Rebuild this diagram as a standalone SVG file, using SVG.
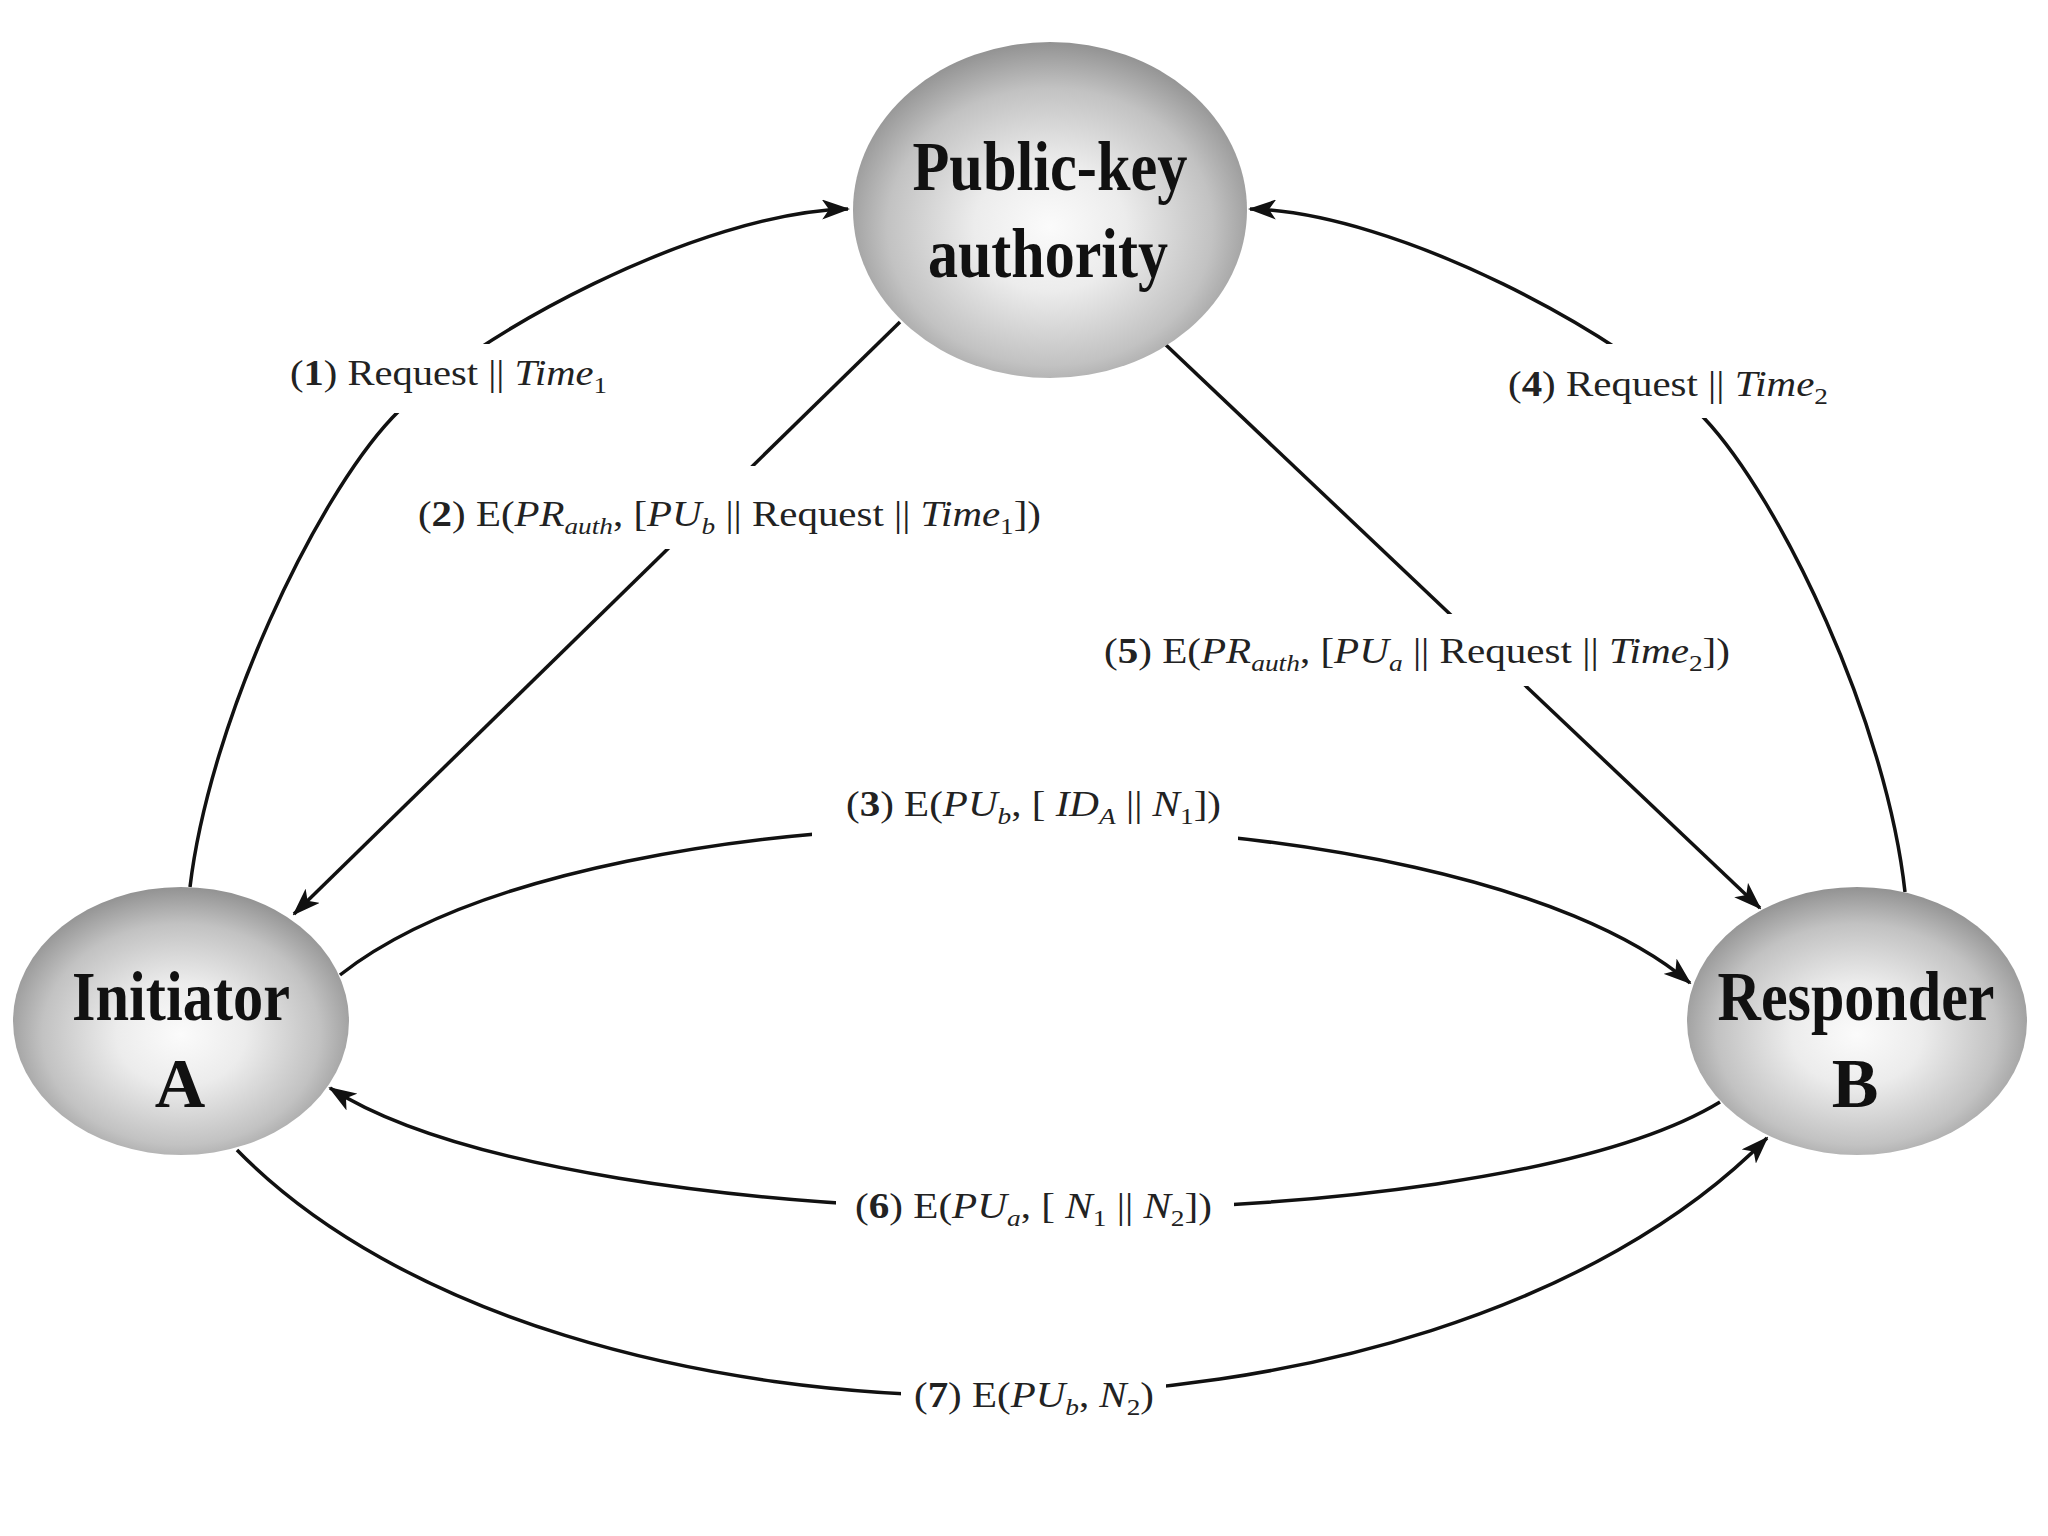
<svg xmlns="http://www.w3.org/2000/svg" width="2048" height="1536" viewBox="0 0 2048 1536">
  <style>
    .conn { fill: none; stroke: #111; stroke-width: 3.5; marker-end: url(#arrow); }
    .conn-plain { fill: none; stroke: #111; stroke-width: 3.5; }
    .node { fill: url(#sphere); }
    .ntext { font-family: "Liberation Serif", "Times New Roman", serif; font-weight: bold; font-size: 70px; fill: #111; text-anchor: middle; }
    .lbl { font-family: "Liberation Serif", "Times New Roman", serif; font-size: 36px; fill: #222; }
    .bg { fill: #ffffff; }
    .b { font-weight: bold; }
    .i { font-style: italic; }
    .sub { font-size: 24px; }
  </style>
  <defs>
    <radialGradient id="sphere" cx="0.5" cy="0.55" r="0.55">
      <stop offset="0" stop-color="#fbfbfb"/>
      <stop offset="0.35" stop-color="#ececec"/>
      <stop offset="0.75" stop-color="#c2c2c2"/>
      <stop offset="1" stop-color="#929292"/>
    </radialGradient>
    <marker id="arrow" markerUnits="userSpaceOnUse" markerWidth="28" markerHeight="20" viewBox="0 0 28 20" refX="26" refY="10" orient="auto">
      <path d="M0,0 L28,10 L0,20 L7,10 Z" fill="#111"/>
    </marker>
  </defs>
  <rect width="2048" height="1536" fill="#ffffff"/>

  <g id="connectors">
    <path id="c1" class="conn" d="M190,887 C210,720 315,500 392,418 S700,212 848,209"/>
    <path id="c2" class="conn" d="M900,322 L294,914"/>
    <path id="c3" class="conn" d="M340,975 C600,770 1450,780 1690,983"/>
    <path id="c4" class="conn" d="M1905,892 C1886,720 1781,500 1704,418 S1396,212 1250,209"/>
    <path id="c5" class="conn" d="M1166,345 L1760,908"/>
    <path id="c6" class="conn" d="M1720,1102 C1480,1248 580,1248 330,1088"/>
    <path id="c7" class="conn" d="M237,1150 C560,1480 1430,1480 1767,1138"/>
  </g>

  <g id="label1">
    <rect class="bg" x="284" y="344" width="328" height="69"/>
    <text class="lbl" x="290" y="385" textLength="317" lengthAdjust="spacingAndGlyphs">(<tspan class="b">1</tspan>) Request || <tspan class="i">Time</tspan><tspan class="sub" dy="8">1</tspan></text>
  </g>
  <g id="label2">
    <rect class="bg" x="412" y="466" width="636" height="83"/>
    <text class="lbl" x="418" y="526" textLength="623" lengthAdjust="spacingAndGlyphs">(<tspan class="b">2</tspan>) E(<tspan class="i">PR</tspan><tspan class="sub i" dy="8">auth</tspan><tspan dy="-8">, [</tspan><tspan class="i">PU</tspan><tspan class="sub i" dy="8">b</tspan><tspan dy="-8"> || Request || </tspan><tspan class="i">Time</tspan><tspan class="sub" dy="8">1</tspan><tspan dy="-8">])</tspan></text>
  </g>
  <g id="label3">
    <rect class="bg" x="812" y="780" width="426" height="70"/>
    <text class="lbl" x="846" y="816" textLength="375" lengthAdjust="spacingAndGlyphs">(<tspan class="b">3</tspan>) E(<tspan class="i">PU</tspan><tspan class="sub i" dy="8">b</tspan><tspan dy="-8">, [ </tspan><tspan class="i">ID</tspan><tspan class="sub i" dy="8">A</tspan><tspan dy="-8"> || </tspan><tspan class="i">N</tspan><tspan class="sub" dy="8">1</tspan><tspan dy="-8">])</tspan></text>
  </g>
  <g id="label4">
    <rect class="bg" x="1500" y="344" width="335" height="74"/>
    <text class="lbl" x="1508" y="396" textLength="320" lengthAdjust="spacingAndGlyphs">(<tspan class="b">4</tspan>) Request || <tspan class="i">Time</tspan><tspan class="sub" dy="8">2</tspan></text>
  </g>
  <g id="label5">
    <rect class="bg" x="1098" y="614" width="638" height="72"/>
    <text class="lbl" x="1104" y="663" textLength="626" lengthAdjust="spacingAndGlyphs">(<tspan class="b">5</tspan>) E(<tspan class="i">PR</tspan><tspan class="sub i" dy="8">auth</tspan><tspan dy="-8">, [</tspan><tspan class="i">PU</tspan><tspan class="sub i" dy="8">a</tspan><tspan dy="-8"> || Request || </tspan><tspan class="i">Time</tspan><tspan class="sub" dy="8">2</tspan><tspan dy="-8">])</tspan></text>
  </g>
  <g id="label6">
    <rect class="bg" x="836" y="1175" width="398" height="65"/>
    <text class="lbl" x="855" y="1218" textLength="357" lengthAdjust="spacingAndGlyphs">(<tspan class="b">6</tspan>) E(<tspan class="i">PU</tspan><tspan class="sub i" dy="8">a</tspan><tspan dy="-8">, [ </tspan><tspan class="i">N</tspan><tspan class="sub" dy="8">1</tspan><tspan dy="-8"> || </tspan><tspan class="i">N</tspan><tspan class="sub" dy="8">2</tspan><tspan dy="-8">])</tspan></text>
  </g>
  <g id="label7">
    <rect class="bg" x="901" y="1365" width="265" height="65"/>
    <text class="lbl" x="914" y="1407" textLength="240" lengthAdjust="spacingAndGlyphs">(<tspan class="b">7</tspan>) E(<tspan class="i">PU</tspan><tspan class="sub i" dy="8">b</tspan><tspan dy="-8">, </tspan><tspan class="i">N</tspan><tspan class="sub" dy="8">2</tspan><tspan dy="-8">)</tspan></text>
  </g>

  <g id="node-authority">
    <ellipse class="node" cx="1050" cy="210" rx="197" ry="168"/>
    <text class="ntext" x="1050" y="190" textLength="275" lengthAdjust="spacingAndGlyphs">Public-key</text>
    <text class="ntext" x="1048" y="277" textLength="240" lengthAdjust="spacingAndGlyphs">authority</text>
  </g>
  <g id="node-initiator">
    <ellipse class="node" cx="181" cy="1021" rx="168" ry="134"/>
    <text class="ntext" x="181" y="1020" textLength="218" lengthAdjust="spacingAndGlyphs">Initiator</text>
    <text class="ntext" x="180" y="1107">A</text>
  </g>
  <g id="node-responder">
    <ellipse class="node" cx="1857" cy="1021" rx="170" ry="134"/>
    <text class="ntext" x="1856" y="1020" textLength="277" lengthAdjust="spacingAndGlyphs">Responder</text>
    <text class="ntext" x="1855" y="1107">B</text>
  </g>
</svg>
